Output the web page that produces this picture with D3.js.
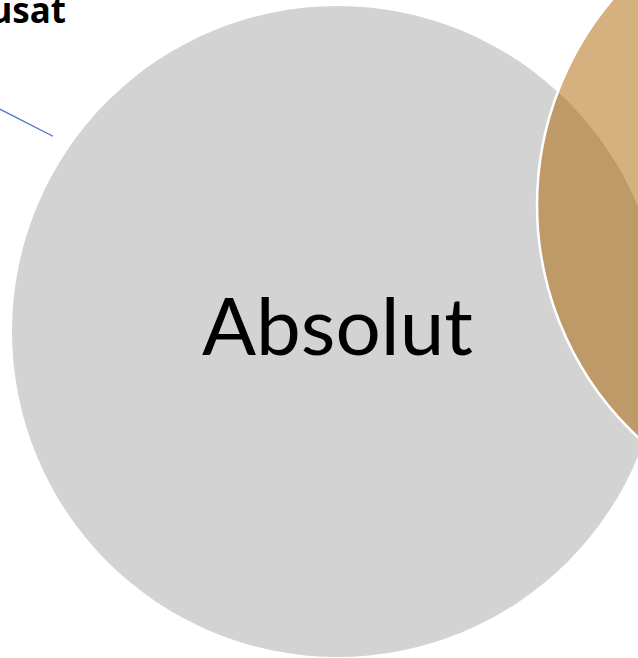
<!DOCTYPE html>
<html>
<head>
<meta charset="utf-8">
<script src="https://d3js.org/d3.v7.min.js"></script>
<style>
  html, body { margin: 0; padding: 0; background: #fff; overflow: hidden; }
  svg { display: block; }
</style>
</head>
<body>
<div id="chart"></div>
<script>

// venn sets, in units of the first circle's radius
var setNames = ['Absolut', 'Relativ']
var setCx = [0, 1.59]
var setCy = [0, -0.389]
var setR = [1, 0.977]
var setLabels = ['Absolut', '']

// callout coming in from off-canvas on the upper left
var calloutText = ['usat']
var calloutFrom = [[-1.09, -0.71]]
var calloutTo = [[-0.874, -0.6]]

var width = 638
var height = 658

var svg = d3.select('#chart')
    .append('svg')
        .attr('width', width)
        .attr('height', height)

var unit = 325.5
var xs = d3.scaleLinear().domain([0, 1]).range([337.5, 337.5 + unit])
var ys = d3.scaleLinear().domain([0, 1]).range([331.5, 331.5 + unit])
var rs = d3.scaleLinear().domain([0, 1]).range([0, unit])

var colors = ['#d3d3d3', '#d5b17f']
var overlapColor = '#bf9a69'

var defs = svg.append('defs')
defs.append('clipPath')
    .attr('id', 'clipA')
  .append('circle')
    .attr('cx', xs(setCx[0]))
    .attr('cy', ys(setCy[0]))
    .attr('r', rs(setR[0]))

svg.selectAll('circle.set')
    .data(setNames)
    .enter()
    .append('circle')
    .attr('class', 'set')
    .attr('cx', function(d, i) { return xs(setCx[i]) })
    .attr('cy', function(d, i) { return ys(setCy[i]) })
    .attr('r', function(d, i) { return rs(setR[i]) })
    .attr('fill', function(d, i) { return colors[i] })

// overlap: second circle clipped by the first
svg.append('circle')
    .attr('clip-path', 'url(#clipA)')
    .attr('cx', xs(setCx[1]))
    .attr('cy', ys(setCy[1]))
    .attr('r', rs(setR[1]))
    .attr('fill', overlapColor)

// white outline on the second circle
svg.append('circle')
    .attr('cx', xs(setCx[1]))
    .attr('cy', ys(setCy[1]))
    .attr('r', rs(setR[1]))
    .attr('fill', 'none')
    .attr('stroke', '#fff')
    .attr('stroke-width', 2.5)

svg.selectAll('text.setlabel')
    .data(setLabels)
    .enter()
    .append('text')
    .attr('class', 'setlabel')
    .attr('x', function(d, i) { return xs(setCx[i]) })
    .attr('y', function(d, i) { return ys(setCy[i]) + 23 })
    .attr('text-anchor', 'middle')
    .style('font-family', 'Lato, "Noto Sans", sans-serif')
    .style('font-size', '80px')
    .style('fill', '#000')
    .text(function(d) { return d })

svg.selectAll('line.callout')
    .data(calloutFrom)
    .enter()
    .append('line')
    .attr('class', 'callout')
    .attr('x1', function(d) { return xs(d[0]) })
    .attr('y1', function(d) { return ys(d[1]) })
    .attr('x2', function(d, i) { return xs(calloutTo[i][0]) })
    .attr('y2', function(d, i) { return ys(calloutTo[i][1]) })
    .attr('stroke', '#4472c4')
    .attr('stroke-width', 1.2)

svg.selectAll('text.callout')
    .data(calloutText)
    .enter()
    .append('text')
    .attr('class', 'callout')
    .attr('x', 66)
    .attr('y', 23)
    .attr('text-anchor', 'end')
    .style('font-family', '"Noto Sans", Lato, sans-serif')
    .style('font-weight', 'bold')
    .style('font-size', '35px')
    .style('fill', '#000')
    .text(function(d) { return d })

</script>
</body>
</html>
